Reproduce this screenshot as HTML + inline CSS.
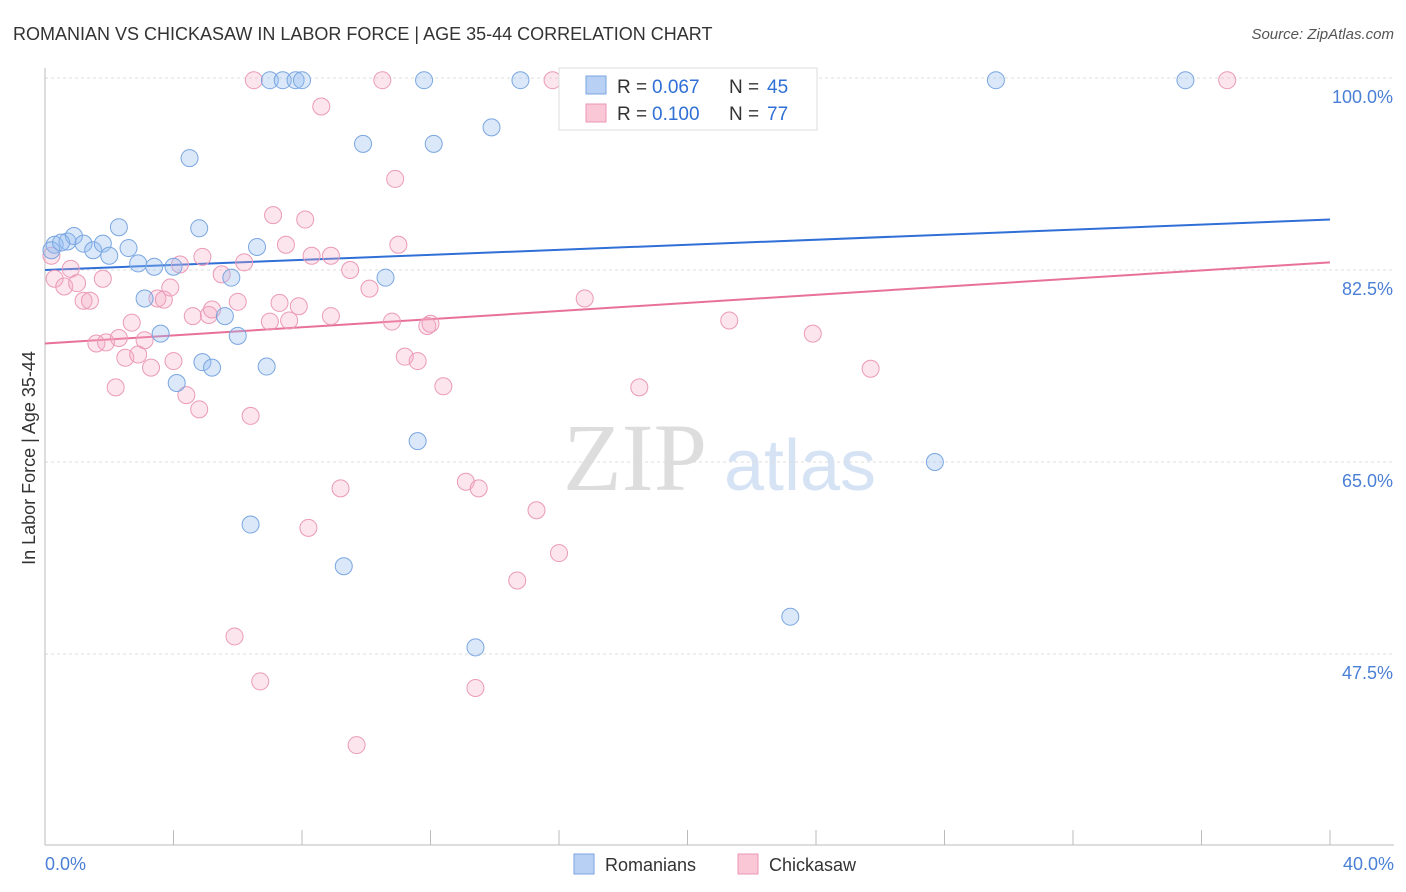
<!DOCTYPE html>
<html><head><meta charset="utf-8"><style>
body{margin:0;background:#fff;font-family:"Liberation Sans",sans-serif;}
svg{display:block}
</style></head><body>
<svg id="chart" width="1406" height="892" xmlns="http://www.w3.org/2000/svg">
<text x="13" y="40" font-size="18" fill="#333">ROMANIAN VS CHICKASAW IN LABOR FORCE | AGE 35-44 CORRELATION CHART</text>
<text x="1394" y="39" font-size="15" fill="#555" font-style="italic" text-anchor="end">Source: ZipAtlas.com</text>
<text x="635" y="490" font-size="96" fill="#ddd" font-family="Liberation Serif,serif" text-anchor="middle">ZIP</text>
<text x="800" y="490" font-size="72" fill="#d6e3f5" text-anchor="middle">atlas</text>
<g id="grid"></g><g id="axes"></g><g id="lines"></g><g id="pts"></g>
<text x="35" y="458" font-size="18" fill="#333" text-anchor="middle" transform="rotate(-90 35 458)">In Labor Force | Age 35-44</text>
<text x="45" y="870" font-size="18" fill="#4a7fd6">0.0%</text>
<text x="1394" y="870" font-size="18" fill="#4a7fd6" text-anchor="end">40.0%</text>
<g>
<rect x="559" y="68" width="258" height="62" fill="#fff" stroke="#ddd"/>
<rect x="586" y="76" width="20" height="18" fill="#b7d0f3" stroke="#7aa6e0"/>
<rect x="586" y="104" width="20" height="18" fill="#f9c7d6" stroke="#eb95b5"/>
<text x="617" y="93" font-size="19" fill="#333">R =</text>
<text x="652" y="93" font-size="19" fill="#2f6fd6">0.067</text>
<text x="729" y="93" font-size="19" fill="#333">N =</text>
<text x="767" y="93" font-size="19" fill="#2f6fd6">45</text>
<text x="617" y="120" font-size="19" fill="#333">R =</text>
<text x="652" y="120" font-size="19" fill="#2f6fd6">0.100</text>
<text x="729" y="120" font-size="19" fill="#333">N =</text>
<text x="767" y="120" font-size="19" fill="#2f6fd6">77</text>
</g>
<g>
<rect x="574" y="854" width="20" height="20" fill="#b7d0f3" stroke="#7aa6e0"/>
<text x="605" y="871" font-size="18" fill="#333">Romanians</text>
<rect x="738" y="854" width="20" height="20" fill="#f9c7d6" stroke="#eb95b5"/>
<text x="769" y="871" font-size="18" fill="#333">Chickasaw</text>
</g>
</svg>
<script>
const blueX=[0.3,0.7,0.9,1.2,1.5,1.8,2.0,2.3,2.6,2.9,3.1,3.4,3.6,4.0,4.1,4.5,4.8,4.9,5.2,5.6,5.8,6.0,6.6,6.9,6.4,7.0,7.4,7.8,8.0,9.3,9.9,10.6,11.6,11.8,12.1,13.4,13.9,14.8,16.5,23.2,27.7,29.6,35.5,0.2,0.5];
const blueY=[84.8,85.1,85.6,84.9,84.3,84.9,83.8,86.4,84.5,83.1,79.9,82.8,76.7,82.8,72.2,92.7,86.3,74.1,73.6,78.3,81.8,76.5,84.6,73.7,59.3,99.8,99.8,99.8,99.8,55.5,94.0,81.8,66.9,99.8,94.0,48.1,95.5,99.8,99.8,50.9,65.0,99.8,99.8,84.3,85.0];
const pinkX=[0.2,0.3,0.6,0.8,1.0,1.2,1.4,1.6,1.8,1.9,2.2,2.3,2.5,2.7,2.9,3.1,3.3,3.5,3.7,3.9,4.0,4.2,4.4,4.6,4.8,4.9,5.1,5.2,5.5,5.9,6.0,6.2,6.4,6.5,6.7,7.0,7.1,7.3,7.5,7.6,7.9,8.1,8.2,8.3,8.6,8.9,8.9,9.2,9.5,9.7,10.1,10.5,10.8,10.9,11.0,11.2,11.6,11.9,12.0,12.4,13.1,13.4,13.5,14.7,15.3,15.8,16.0,16.8,18.5,20.1,21.0,21.3,23.9,25.7,36.8];
const pinkY=[83.8,81.7,81.0,82.6,81.3,79.7,79.7,75.8,81.7,75.9,71.8,76.3,74.5,77.7,74.8,76.1,73.6,79.9,79.8,80.9,74.2,83.0,71.1,78.3,69.8,83.7,78.4,78.9,82.1,49.1,79.6,83.2,69.2,99.8,45.0,77.8,87.5,79.5,84.8,77.9,79.2,87.1,59.0,83.8,97.4,78.3,83.8,62.6,82.5,39.2,80.8,99.8,77.8,90.8,84.8,74.6,74.2,77.4,77.6,71.9,63.2,44.4,62.6,54.2,60.6,99.8,56.7,79.9,71.8,99.8,99.8,77.9,76.7,73.5,99.8];
const blueTrend=[82.5,87.1];
const pinkTrend=[75.8,83.2];
const yTicks=[100,82.5,65,47.5];
const xTicks=[0,4,8,12,16,20,24,28,32,36,40];
const NS="http://www.w3.org/2000/svg";
const sx=v=>45+v/40*1285;
const sy=v=>78+(100-v)/17.5*192;
function mk(p,tag,a){const e=document.createElementNS(NS,tag);for(const k in a)e.setAttribute(k,a[k]);document.getElementById(p).appendChild(e);return e;}
yTicks.forEach(t=>{
 const l=mk('grid','line',{x1:45,x2:1394,y1:sy(t),y2:sy(t),stroke:'#ddd','stroke-dasharray':'3,3'});
 
 
 const tx=mk('grid','text',{x:1393,y:sy(t)+25,'font-size':18,fill:'#4a7fd6','text-anchor':'end'});
 tx.textContent=t.toFixed(1)+'%';
 
 
});
const ax=mk('axes','line',{x1:45,x2:45,y1:68,y2:845,stroke:'#bbb'});


const bx=mk('axes','line',{x1:45,x2:1394,y1:845,y2:845,stroke:'#bbb'});


xTicks.forEach(t=>{
 const l=mk('axes','line',{x1:sx(t),x2:sx(t),y1:830,y2:845,stroke:'#bbb'});
 
 
});
const bl=mk('lines','line',{x1:sx(0),x2:sx(40),y1:sy(blueTrend[0]),y2:sy(blueTrend[1]),stroke:'#2f6fd6','stroke-width':2});


const pl=mk('lines','line',{x1:sx(0),x2:sx(40),y1:sy(pinkTrend[0]),y2:sy(pinkTrend[1]),stroke:'#e8719a','stroke-width':2});


pinkX.forEach((x,i)=>{
 const c=mk('pts','circle',{cx:sx(x),cy:sy(pinkY[i]),r:8.5,fill:'rgba(245,170,195,0.3)',stroke:'#eb9ab8','stroke-width':1});
 
 
});
blueX.forEach((x,i)=>{
 const c=mk('pts','circle',{cx:sx(x),cy:sy(blueY[i]),r:8.5,fill:'rgba(150,190,240,0.35)',stroke:'#7aa6e0','stroke-width':1});
 
 
});
</script>
</body></html>
